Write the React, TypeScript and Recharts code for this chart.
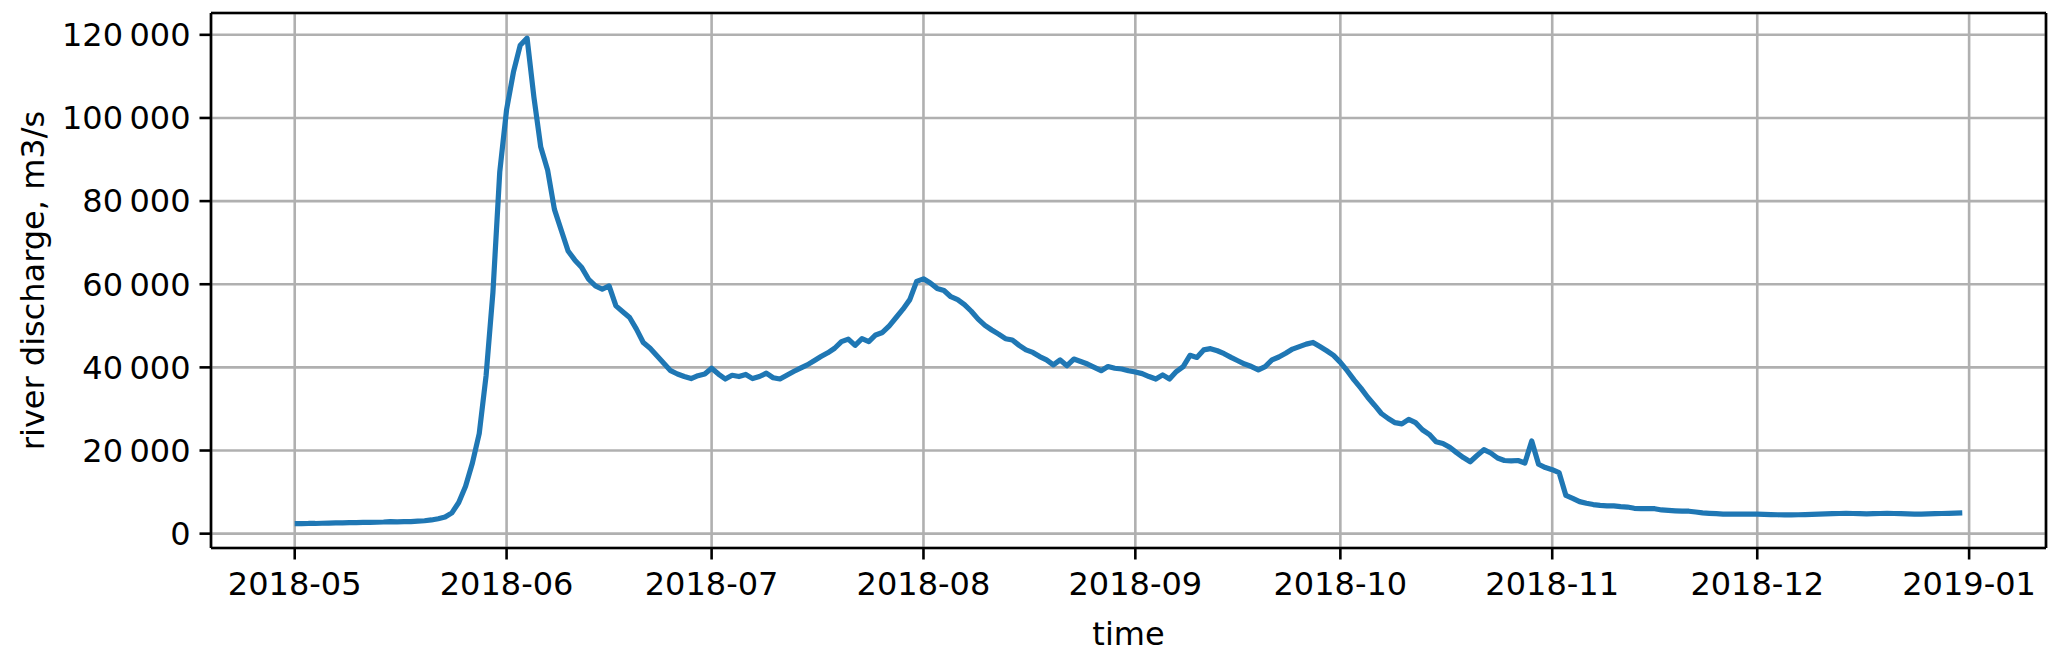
import React from 'react';
import { LineChart, Line, XAxis, YAxis, CartesianGrid, Label, ReferenceLine } from 'recharts';

const FONT = '"DejaVu Sans", sans-serif';

// daily river discharge, m3/s, one array per month of 2018
const may = [
  2400, 2400, 2450, 2450, 2500, 2550, 2600, 2600, 2650, 2650, 2700, 2700, 2750, 2800, 2900, 2850,
  2900, 2900, 3000, 3100, 3300, 3600, 4000, 5000, 7500, 11400, 17000, 24100, 38000, 58000, 87000,
];
const jun = [
  102000, 111000, 117500, 119200, 105000, 93000, 87500, 78000, 73000, 68000, 65800, 64000, 61200, 59600, 58800,
  59600, 54800, 53400, 52000, 49200, 46000, 44600, 42800, 41000, 39200, 38400, 37800, 37300, 38000, 38400,
];
const jul = [
  39800, 38400, 37200, 38100, 37800, 38300, 37300, 37800, 38600, 37500, 37200, 38100, 39000, 39800, 40600, 41600,
  42600, 43500, 44600, 46200, 46800, 45300, 46900, 46200, 47800, 48400, 50000, 52000, 54000, 56300, 60700,
];
const aug = [
  61300, 60300, 59000, 58500, 57000, 56300, 55100, 53500, 51600, 50100, 49000, 48000, 46900, 46600, 45300, 44200,
  43600, 42600, 41800, 40600, 41800, 40400, 42000, 41400, 40800, 40000, 39200, 40200, 39800, 39600, 39200,
];
const sep = [
  38900, 38500, 37800, 37200, 38200, 37200, 39000, 40200, 42900, 42400, 44200, 44500, 44000, 43300, 42400,
  41600, 40800, 40200, 39400, 40200, 41800, 42500, 43400, 44400, 45000, 45600, 46000, 45000, 44000, 42900,
];
const oct = [
  41200, 39200, 37000, 35000, 32800, 30900, 28900, 27700, 26700, 26400, 27500, 26700, 25000, 23900, 22100, 21700,
  20800, 19500, 18300, 17300, 18800, 20200, 19400, 18200, 17600, 17500, 17600, 17000, 22300, 16700, 15900,
];
const nov = [
  15400, 14700, 9200, 8500, 7700, 7300, 7000, 6800, 6700, 6700, 6500, 6400, 6100, 6000, 6000,
  6000, 5700, 5600, 5500, 5400, 5400, 5200, 5000, 4900, 4800, 4700, 4700, 4700, 4700, 4700,
];
const dec = [
  4700, 4650, 4600, 4550, 4500, 4500, 4550, 4600, 4650, 4700, 4750, 4800, 4850, 4900, 4850, 4800,
  4750, 4800, 4850, 4900, 4850, 4800, 4750, 4700, 4700, 4750, 4800, 4850, 4900, 4950, 5000,
];

const tickLabels = ['2018-05', '2018-06', '2018-07', '2018-08', '2018-09', '2018-10', '2018-11', '2018-12', '2019-01'];
const yTicks = [0, 20000, 40000, 60000, 80000, 100000, 120000];

const DAY = 86400000;
const start = Date.UTC(2018, 4, 1);
const tickDays = tickLabels.map((l) => {
  const [y, m] = l.split('-').map(Number);
  return (Date.UTC(y, m - 1, 1) - start) / DAY;
});

const data = [may, jun, jul, aug, sep, oct, nov, dec].flat().map((v, i) => ({ day: i, discharge: v }));

const X_DOMAIN: [number, number] = [-12.25, 256.25];
const Y_DOMAIN: [number, number] = [-3450, 125250];

const fmtY = (v: number) => String(v).replace(/\B(?=(\d{3})+(?!\d))/g, '\u2009');
const fmtX = (v: number) => tickLabels[tickDays.indexOf(v)] ?? '';

const FS = 32;
const tickStyle = { fill: '#000', fontSize: FS, fontFamily: FONT };
const spine = { stroke: '#000', strokeWidth: 2.6 };

export default function App() {
  return (
    <div style={{ position: 'absolute', left: 0, top: 0, background: '#fff' }}>
      <LineChart width={2067} height={655} data={data} margin={{ top: 13, right: 21, bottom: 0, left: 0 }}>
        <CartesianGrid stroke="#b0b0b0" strokeWidth={2.6} />
        <XAxis
          dataKey="day"
          type="number"
          domain={X_DOMAIN}
          ticks={tickDays}
          tickFormatter={fmtX}
          allowDataOverflow
          height={107}
          tickSize={11.5}
          tickMargin={13}
          axisLine={spine}
          tickLine={spine}
          tick={tickStyle}
        >
          <Label
            content={({ viewBox }: any) => (
              <text x={viewBox.x + viewBox.width / 2} y={viewBox.y + 97} textAnchor="middle" fontSize={FS} fontFamily={FONT} fill="#000">
                time
              </text>
            )}
          />
        </XAxis>
        <YAxis
          type="number"
          domain={Y_DOMAIN}
          ticks={yTicks}
          tickFormatter={fmtY}
          allowDataOverflow
          width={211}
          tickSize={11.5}
          tickMargin={9}
          axisLine={spine}
          tickLine={spine}
          tick={tickStyle}
        >
          <Label
            content={({ viewBox }: any) => {
              const cy = viewBox.y + viewBox.height / 2;
              return (
                <text x={44} y={cy} transform={`rotate(-90, 44, ${cy})`} textAnchor="middle" fontSize={FS} fontFamily={FONT} fill="#000">
                  river discharge, m3/s
                </text>
              );
            }}
          />
        </YAxis>
        <ReferenceLine y={Y_DOMAIN[1]} stroke="#000" strokeWidth={2.6} />
        <ReferenceLine x={X_DOMAIN[1]} stroke="#000" strokeWidth={2.6} />
        <Line
          type="linear"
          dataKey="discharge"
          stroke="#1f77b4"
          strokeWidth={5.2}
          strokeLinejoin="round"
          dot={false}
          activeDot={false}
          isAnimationActive={false}
        />
      </LineChart>
    </div>
  );
}
